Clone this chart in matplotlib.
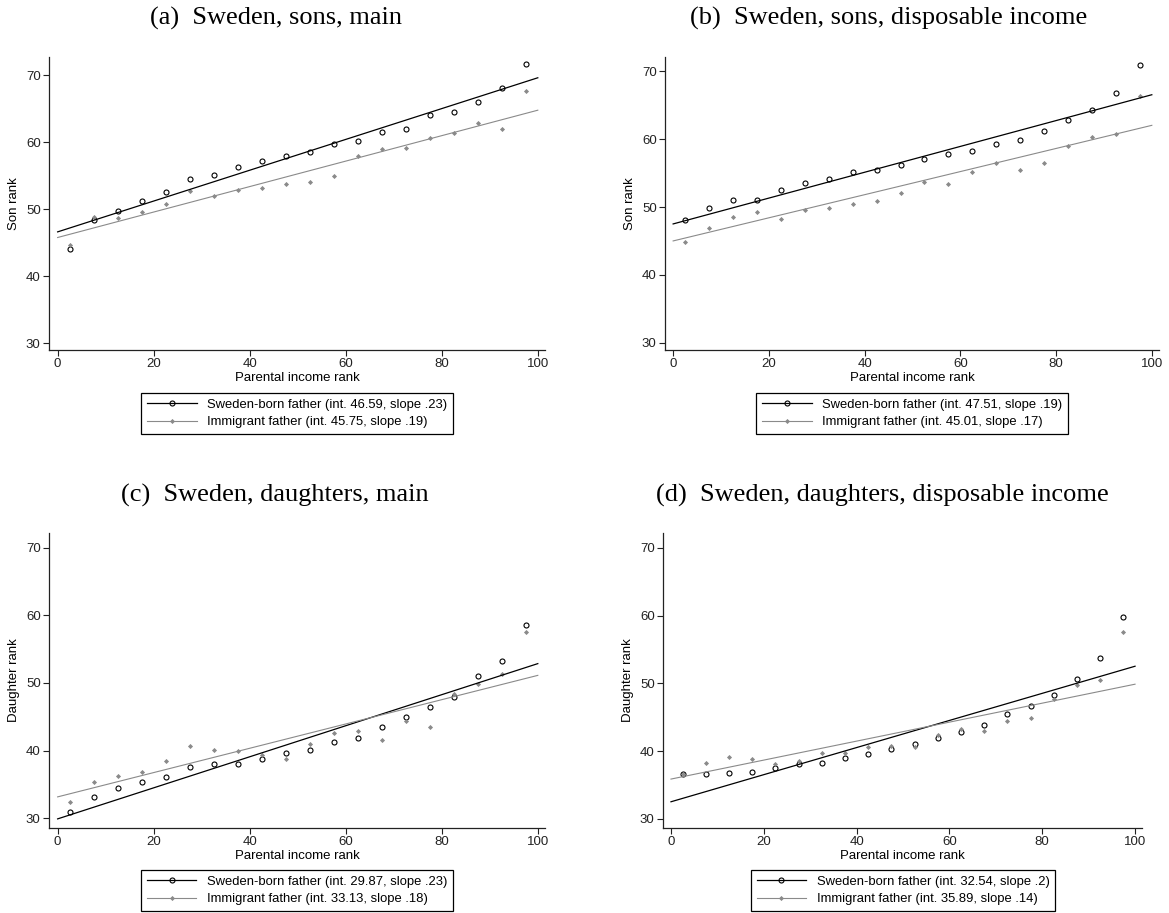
import matplotlib
matplotlib.use("Agg")
import matplotlib.pyplot as plt
import numpy as np

# parental income rank bins (midpoints of ventiles)
ventiles = [2.5, 7.5, 12.5, 17.5, 22.5, 27.5, 32.5, 37.5, 42.5, 47.5,
            52.5, 57.5, 62.5, 67.5, 72.5, 77.5, 82.5, 87.5, 92.5, 97.5]

# (a) sons, main
sons_main_born = [44.1, 48.3, 49.7, 51.2, 52.6, 54.5, 55.1, 56.3, 57.2, 57.9,
                  58.5, 59.7, 60.2, 61.5, 61.9, 64.0, 64.5, 66.0, 68.1, 71.6]
sons_main_imm = [44.7, 48.8, 48.6, 49.5, 50.8, 52.7, 51.9, 52.8, 53.2, 53.8,
                 54.0, 55.0, 57.9, 59.0, 59.1, 60.6, 61.3, 62.8, 61.9, 67.6]
# (b) sons, disposable income
sons_disp_born = [48.1, 49.9, 51.0, 51.1, 52.5, 53.6, 54.1, 55.1, 55.5, 56.2,
                  57.1, 57.8, 58.3, 59.3, 59.8, 61.2, 62.8, 64.2, 66.8, 70.9]
sons_disp_imm = [44.8, 46.9, 48.5, 49.3, 48.3, 49.5, 49.9, 50.4, 50.9, 52.1,
                 53.7, 53.4, 55.1, 56.5, 55.5, 56.4, 58.9, 60.3, 60.7, 66.3]
# (c) daughters, main
dau_main_born = [30.9, 33.1, 34.5, 35.4, 36.1, 37.6, 38.0, 38.0, 38.8, 39.6,
                 40.1, 41.3, 41.9, 43.5, 44.9, 46.4, 47.9, 51.1, 53.2, 58.6]
dau_main_imm = [32.3, 35.3, 36.2, 36.8, 38.4, 40.6, 40.1, 39.9, 39.4, 38.8,
                41.0, 42.6, 42.9, 41.6, 44.3, 43.5, 48.3, 49.8, 51.3, 57.6]
# (d) daughters, disposable income
dau_disp_born = [36.6, 36.7, 36.8, 36.9, 37.5, 38.1, 38.3, 39.0, 39.6, 40.3,
                 41.1, 41.9, 42.9, 43.8, 45.5, 46.7, 48.3, 50.6, 53.7, 59.8]
dau_disp_imm = [36.6, 38.3, 39.2, 38.8, 38.1, 38.6, 39.8, 39.7, 40.6, 40.7,
                40.6, 42.4, 43.3, 43.0, 44.5, 44.9, 47.7, 49.7, 50.5, 57.6]

# fitted intercepts and slopes, and their legend text
born_int = [46.59, 47.51, 29.87, 32.54]
born_slope = [0.23, 0.19, 0.23, 0.20]
imm_int = [45.75, 45.01, 33.13, 35.89]
imm_slope = [0.19, 0.17, 0.18, 0.14]
born_labels = ["Sweden-born father (int. 46.59, slope .23)",
               "Sweden-born father (int. 47.51, slope .19)",
               "Sweden-born father (int. 29.87, slope .23)",
               "Sweden-born father (int. 32.54, slope .2)"]
imm_labels = ["Immigrant father (int. 45.75, slope .19)",
              "Immigrant father (int. 45.01, slope .17)",
              "Immigrant father (int. 33.13, slope .18)",
              "Immigrant father (int. 35.89, slope .14)"]

titles = ["(a)  Sweden, sons, main",
          "(b)  Sweden, sons, disposable income",
          "(c)  Sweden, daughters, main",
          "(d)  Sweden, daughters, disposable income"]
ylabels = ["Son rank", "Son rank", "Daughter rank", "Daughter rank"]
born_series = [sons_main_born, sons_disp_born, dau_main_born, dau_disp_born]
imm_series = [sons_main_imm, sons_disp_imm, dau_main_imm, dau_disp_imm]

W, H = 1169, 913
fig = plt.figure(figsize=(W / 100, H / 100), dpi=100)

# pixel boxes: left, right, top, bottom ; y limits ; x limits
boxes = [(49, 545, 57, 350), (665, 1159, 57, 350),
         (49, 545, 533, 828), (663, 1142, 533, 828)]
ylims = [(28.96, 72.69), (28.97, 72.06), (28.52, 72.22), (28.67, 72.2)]
xlims = [(-1.8, 101.5), (-1.7, 101.5), (-1.8, 101.5), (-1.72, 101.5)]
title_pos = [(276, 18), (889, 18), (275, 495), (882, 495)]
legend_pos = [(297, 393), (912, 393), (297, 870), (903, 870)]

sans = "Liberation Sans"
gray = "#8a8a8a"

for i in range(4):
    l, r, t, b = boxes[i]
    ax = fig.add_axes([l / W, (H - b) / H, (r - l) / W, (b - t) / H])
    x = np.array(ventiles)
    line_x = np.array([0, 100])

    ax.plot(x, born_series[i], 'o', mfc='none', mec='black', ms=3.6, mew=0.8)
    ax.plot(x, imm_series[i], 'D', color=gray, ms=2.6, mew=0)
    ax.plot(line_x, born_int[i] + born_slope[i] * line_x, color='black', lw=0.9)
    ax.plot(line_x, imm_int[i] + imm_slope[i] * line_x, color=gray, lw=0.8)

    # legend handles: line with marker in the middle
    h1, = ax.plot([], [], color='black', lw=0.9, marker='o', mfc='none',
                  mec='black', ms=3.6, mew=0.8)
    h2, = ax.plot([], [], color=gray, lw=0.8, marker='D', ms=2.6, mew=0)
    leg = ax.legend([h1, h2], [born_labels[i], imm_labels[i]],
                    loc='upper center',
                    bbox_to_anchor=(legend_pos[i][0] / W, 1 - legend_pos[i][1] / H),
                    bbox_transform=fig.transFigure, borderaxespad=0,
                    prop={'family': sans, 'size': 9.4}, fancybox=False,
                    edgecolor='black', framealpha=1, handlelength=3.8,
                    borderpad=0.45, labelspacing=0.4, numpoints=1)
    leg.get_frame().set_linewidth(0.9)

    ax.set_xlim(*xlims[i])
    ax.set_ylim(*ylims[i])
    ax.set_xticks([0, 20, 40, 60, 80, 100])
    ax.set_yticks([30, 40, 50, 60, 70])
    ax.spines['top'].set_visible(False)
    ax.spines['right'].set_visible(False)
    for s in ['left', 'bottom']:
        ax.spines[s].set_linewidth(0.9)
        ax.spines[s].set_color('#222222')
    ax.tick_params(direction='out', length=4, width=0.8, labelsize=9.5,
                   pad=2, colors='#222222')
    for lab in ax.get_xticklabels() + ax.get_yticklabels():
        lab.set_family(sans)
    ax.set_xlabel("Parental income rank", family=sans, fontsize=9.5, labelpad=1)
    ax.set_ylabel(ylabels[i], family=sans, fontsize=9.5, labelpad=4)

    fig.text(title_pos[i][0] / W, 1 - title_pos[i][1] / H, titles[i],
             family="Liberation Serif", fontsize=19, ha='center', va='center')

fig.savefig("out.png", dpi=100)
